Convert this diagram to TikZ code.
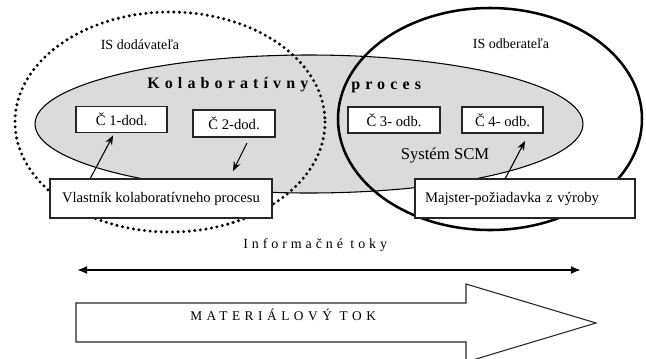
\documentclass[tikz,border=0pt]{standalone}
\usepackage{fontspec}
\setmainfont{Liberation Serif}
\usetikzlibrary{arrows.meta,positioning}
\tikzstyle{part}   = [draw=black!85, fill=white, line width=0.8pt, minimum height=19.5pt, inner sep=2pt, font=\fontsize{11}{13}\selectfont]
\tikzstyle{role}   = [draw=black!85, fill=white, line width=0.8pt, minimum height=29.25pt, font=\fontsize{11}{13}\selectfont]
\tikzstyle{arrow}  = [line width=0.8pt,-{Stealth[length=7pt,width=5.5pt]}]
\tikzstyle{spaced} = [inner sep=0pt, anchor=west]

\begin{document}
\begin{tikzpicture}[x=0.75pt,y=-0.75pt]
    \useasboundingbox (0,0) rectangle (646,358);

    % kolaborativny proces
    \draw[fill=black!14, line width=0.8pt] (309,124) ellipse [x radius=274, y radius=69];
    % IS dodavatela a odberatela
    \draw[line width=2.5pt, line cap=round, dash pattern=on 0pt off 4.2pt] (170,122) ellipse [x radius=155, y radius=110];
    \draw[line width=1.9pt] (490,119) ellipse [x radius=152, y radius=111];

    \node (isd) at (140,45) [font=\fontsize{10.5}{12}\selectfont] {IS dodávateľa};
    \node (iso) at (511,44) [font=\fontsize{10.5}{12}\selectfont] {IS odberateľa};
    \node (kol) at (147,85) [spaced, font=\fontsize{12}{14}\selectfont\bfseries\addfontfeatures{LetterSpace=32}] {Kolaboratívny};
    \node (pro) at (351,87) [spaced, font=\fontsize{12}{14}\selectfont\bfseries\addfontfeatures{LetterSpace=32}] {proces};
    \node (scm) at (445,155) [font=\fontsize{12.5}{14}\selectfont] {Systém SCM};

    \node[part, minimum width=68.25pt] (c1) at (121.5,119.5) {Č 1-dod.};
    \node[part, minimum width=61.5pt, minimum height=20.25pt] (c2) at (234,123.5) {Č 2-dod.};
    \node[part, minimum width=69pt] (c3) at (394,120) {Č 3- odb.};
    \node[part, minimum width=60.75pt] (c4) at (502.5,120) {Č 4- odb.};

    \node[role, minimum width=166.5pt] (vlast) at (161,198.5) {Vlastník kolaboratívneho procesu};
    \node[role, text width=150pt, align=left, inner xsep=7.5pt] (majst) at (525,198.5) {Majster-požiadavka z výroby};

    \coordinate (v1) at (90,179);
    \coordinate (d2a) at (247,143);
    \coordinate (d2b) at (233,171);
    \coordinate (m1) at (505,179);
    \coordinate (m2) at (525,141);
    \draw[arrow, shorten >=2pt] (v1) -- (c1);
    \draw[arrow] (d2a) -- (d2b);
    \draw[arrow] (m1) -- (m2);

    % toky
    \node (inf) at (243,245) [spaced, font=\fontsize{10.5}{12}\selectfont\addfontfeatures{LetterSpace=28}] {Informačné toky};
    \coordinate (il) at (77,270);
    \coordinate (ir) at (581,270);
    \draw[line width=1.4pt, {Latex[length=7.5pt,width=6pt]}-{Latex[length=7.5pt,width=6pt]}] (il) -- (ir);

    \draw[line width=0.8pt, draw=black!85] (76,303) -- (466,303) -- (466,284) -- (596,323) -- (466,362) -- (466,342) -- (76,342) -- cycle;
    \node (mat) at (190,315) [spaced, font=\fontsize{10}{12}\selectfont\addfontfeatures{LetterSpace=34}] {MATERIÁLOVÝ TOK};
\end{tikzpicture}
\end{document}
